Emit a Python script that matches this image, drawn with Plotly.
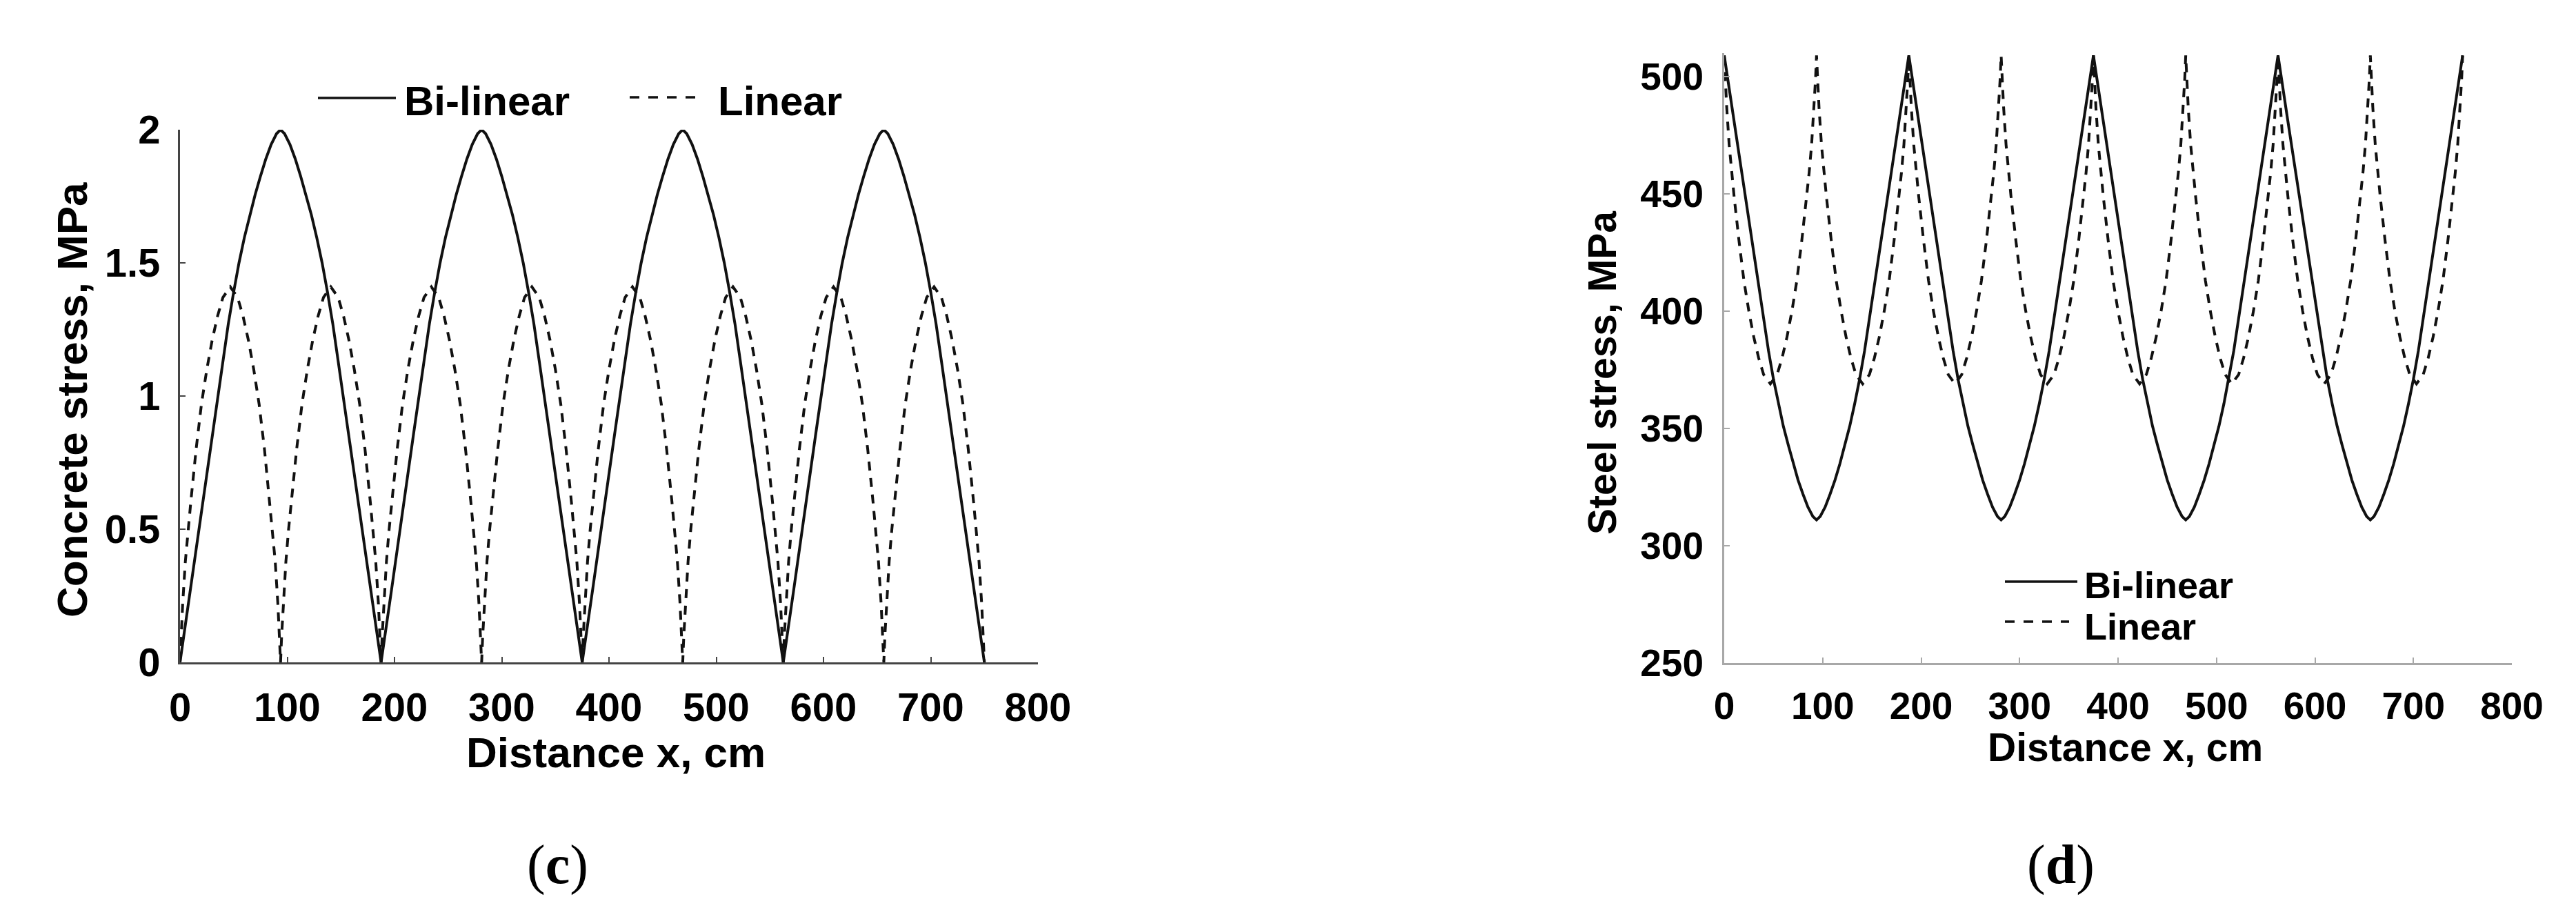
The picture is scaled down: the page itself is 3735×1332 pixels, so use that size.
import plotly.graph_objects as go

# ---------------- data ----------------
# (c) Concrete stress, MPa  /  (d) Steel stress, MPa  vs  Distance x, cm

x_bilinear = [
    0, 10, 20, 30, 40, 45, 50, 55, 60, 65, 70, 75, 80, 85, 90, 93.75, 97.5, 102.5, 107.5, 112.5, 117.5, 122.5, 127.5, 132.5, 137.5, 142.5, 147.5, 157.5, 167.5, 177.5,
    187.5, 197.5, 207.5, 217.5, 227.5, 232.5, 237.5, 242.5, 247.5, 252.5, 257.5, 262.5, 267.5, 272.5, 277.5, 281.25, 285, 290, 295, 300, 305, 310, 315, 320, 325, 330, 335, 345, 355, 365,
    375, 385, 395, 405, 415, 420, 425, 430, 435, 440, 445, 450, 455, 460, 465, 468.75, 472.5, 477.5, 482.5, 487.5, 492.5, 497.5, 502.5, 507.5, 512.5, 517.5, 522.5, 532.5, 542.5, 552.5,
    562.5, 572.5, 582.5, 592.5, 602.5, 607.5, 612.5, 617.5, 622.5, 627.5, 632.5, 637.5, 642.5, 647.5, 652.5, 656.25, 660, 665, 670, 675, 680, 685, 690, 695, 700, 705, 710, 720, 730, 740,
    750,
]

concrete_bilinear = [
    0, 0.28, 0.57, 0.85, 1.13, 1.27, 1.39, 1.50, 1.595, 1.68, 1.755, 1.825, 1.89, 1.945, 1.985, 2.0, 1.985, 1.945, 1.89, 1.825, 1.755, 1.68, 1.595, 1.50, 1.39, 1.27, 1.13, 0.85, 0.57, 0.28,
    0, 0.28, 0.57, 0.85, 1.13, 1.27, 1.39, 1.50, 1.595, 1.68, 1.755, 1.825, 1.89, 1.945, 1.985, 2.0, 1.985, 1.945, 1.89, 1.825, 1.755, 1.68, 1.595, 1.50, 1.39, 1.27, 1.13, 0.85, 0.57, 0.28,
    0, 0.28, 0.57, 0.85, 1.13, 1.27, 1.39, 1.50, 1.595, 1.68, 1.755, 1.825, 1.89, 1.945, 1.985, 2.0, 1.985, 1.945, 1.89, 1.825, 1.755, 1.68, 1.595, 1.50, 1.39, 1.27, 1.13, 0.85, 0.57, 0.28,
    0, 0.28, 0.57, 0.85, 1.13, 1.27, 1.39, 1.50, 1.595, 1.68, 1.755, 1.825, 1.89, 1.945, 1.985, 2.0, 1.985, 1.945, 1.89, 1.825, 1.755, 1.68, 1.595, 1.50, 1.39, 1.27, 1.13, 0.85, 0.57, 0.28,
    0,
]

steel_bilinear = [
    509, 481, 453, 425, 397, 383, 371, 360.5, 351, 343, 335, 328, 322, 316.5, 312.5, 311, 312.5, 316.5, 322, 328, 335, 343, 351, 360.5, 371, 383, 397, 425, 453, 481,
    509, 481, 453, 425, 397, 383, 371, 360.5, 351, 343, 335, 328, 322, 316.5, 312.5, 311, 312.5, 316.5, 322, 328, 335, 343, 351, 360.5, 371, 383, 397, 425, 453, 481,
    509, 481, 453, 425, 397, 383, 371, 360.5, 351, 343, 335, 328, 322, 316.5, 312.5, 311, 312.5, 316.5, 322, 328, 335, 343, 351, 360.5, 371, 383, 397, 425, 453, 481,
    509, 481, 453, 425, 397, 383, 371, 360.5, 351, 343, 335, 328, 322, 316.5, 312.5, 311, 312.5, 316.5, 322, 328, 335, 343, 351, 360.5, 371, 383, 397, 425, 453, 481,
    509,
]

x_linear = [
    0, 1, 2.5, 5, 7.5, 10, 15, 20, 25, 30, 35, 40, 46.875, 53.75, 58.75, 63.75, 68.75, 73.75, 78.75, 83.75, 86.25, 88.75, 91.25, 92.75,
    93.75, 94.75, 96.25, 98.75, 101.25, 103.75, 108.75, 113.75, 118.75, 123.75, 128.75, 133.75, 140.625, 147.5, 152.5, 157.5, 162.5, 167.5, 172.5, 177.5, 180, 182.5, 185, 186.5,
    187.5, 188.5, 190, 192.5, 195, 197.5, 202.5, 207.5, 212.5, 217.5, 222.5, 227.5, 234.375, 241.25, 246.25, 251.25, 256.25, 261.25, 266.25, 271.25, 273.75, 276.25, 278.75, 280.25,
    281.25, 282.25, 283.75, 286.25, 288.75, 291.25, 296.25, 301.25, 306.25, 311.25, 316.25, 321.25, 328.125, 335, 340, 345, 350, 355, 360, 365, 367.5, 370, 372.5, 374,
    375, 376, 377.5, 380, 382.5, 385, 390, 395, 400, 405, 410, 415, 421.875, 428.75, 433.75, 438.75, 443.75, 448.75, 453.75, 458.75, 461.25, 463.75, 466.25, 467.75,
    468.75, 469.75, 471.25, 473.75, 476.25, 478.75, 483.75, 488.75, 493.75, 498.75, 503.75, 508.75, 515.625, 522.5, 527.5, 532.5, 537.5, 542.5, 547.5, 552.5, 555, 557.5, 560, 561.5,
    562.5, 563.5, 565, 567.5, 570, 572.5, 577.5, 582.5, 587.5, 592.5, 597.5, 602.5, 609.375, 616.25, 621.25, 626.25, 631.25, 636.25, 641.25, 646.25, 648.75, 651.25, 653.75, 655.25,
    656.25, 657.25, 658.75, 661.25, 663.75, 666.25, 671.25, 676.25, 681.25, 686.25, 691.25, 696.25, 703.125, 710, 715, 720, 725, 730, 735, 740, 742.5, 745, 747.5, 749,
    750,
]

concrete_linear = [
    0, 0.1, 0.22, 0.38, 0.5, 0.6, 0.8, 0.97, 1.1, 1.21, 1.3, 1.37, 1.41, 1.37, 1.3, 1.21, 1.1, 0.97, 0.8, 0.6, 0.5, 0.38, 0.22, 0.1,
    0, 0.1, 0.22, 0.38, 0.5, 0.6, 0.8, 0.97, 1.1, 1.21, 1.3, 1.37, 1.41, 1.37, 1.3, 1.21, 1.1, 0.97, 0.8, 0.6, 0.5, 0.38, 0.22, 0.1,
    0, 0.1, 0.22, 0.38, 0.5, 0.6, 0.8, 0.97, 1.1, 1.21, 1.3, 1.37, 1.41, 1.37, 1.3, 1.21, 1.1, 0.97, 0.8, 0.6, 0.5, 0.38, 0.22, 0.1,
    0, 0.1, 0.22, 0.38, 0.5, 0.6, 0.8, 0.97, 1.1, 1.21, 1.3, 1.37, 1.41, 1.37, 1.3, 1.21, 1.1, 0.97, 0.8, 0.6, 0.5, 0.38, 0.22, 0.1,
    0, 0.1, 0.22, 0.38, 0.5, 0.6, 0.8, 0.97, 1.1, 1.21, 1.3, 1.37, 1.41, 1.37, 1.3, 1.21, 1.1, 0.97, 0.8, 0.6, 0.5, 0.38, 0.22, 0.1,
    0, 0.1, 0.22, 0.38, 0.5, 0.6, 0.8, 0.97, 1.1, 1.21, 1.3, 1.37, 1.41, 1.37, 1.3, 1.21, 1.1, 0.97, 0.8, 0.6, 0.5, 0.38, 0.22, 0.1,
    0, 0.1, 0.22, 0.38, 0.5, 0.6, 0.8, 0.97, 1.1, 1.21, 1.3, 1.37, 1.41, 1.37, 1.3, 1.21, 1.1, 0.97, 0.8, 0.6, 0.5, 0.38, 0.22, 0.1,
    0, 0.1, 0.22, 0.38, 0.5, 0.6, 0.8, 0.97, 1.1, 1.21, 1.3, 1.37, 1.41, 1.37, 1.3, 1.21, 1.1, 0.97, 0.8, 0.6, 0.5, 0.38, 0.22, 0.1,
    0,
]

steel_linear = [
    509, 499, 487, 471, 459, 449, 430, 413, 400, 389, 380, 373, 369, 373, 380, 389, 400, 413, 430, 449, 459, 471, 487, 499,
    509, 499, 487, 471, 459, 449, 430, 413, 400, 389, 380, 373, 369, 373, 380, 389, 400, 413, 430, 449, 459, 471, 487, 499,
    509, 499, 487, 471, 459, 449, 430, 413, 400, 389, 380, 373, 369, 373, 380, 389, 400, 413, 430, 449, 459, 471, 487, 499,
    509, 499, 487, 471, 459, 449, 430, 413, 400, 389, 380, 373, 369, 373, 380, 389, 400, 413, 430, 449, 459, 471, 487, 499,
    509, 499, 487, 471, 459, 449, 430, 413, 400, 389, 380, 373, 369, 373, 380, 389, 400, 413, 430, 449, 459, 471, 487, 499,
    509, 499, 487, 471, 459, 449, 430, 413, 400, 389, 380, 373, 369, 373, 380, 389, 400, 413, 430, 449, 459, 471, 487, 499,
    509, 499, 487, 471, 459, 449, 430, 413, 400, 389, 380, 373, 369, 373, 380, 389, 400, 413, 430, 449, 459, 471, 487, 499,
    509, 499, 487, 471, 459, 449, 430, 413, 400, 389, 380, 373, 369, 373, 380, 389, 400, 413, 430, 449, 459, 471, 487, 499,
    509,
]

series_names = ["Bi-linear", "Linear"]
x_ticks = [0, 100, 200, 300, 400, 500, 600, 700, 800]
concrete_ticks = [0, 0.5, 1, 1.5, 2]
steel_ticks = [250, 300, 350, 400, 450, 500]

# ---------------- styling ----------------
W, H = 3735, 1332
SANS = "Liberation Sans, Arial, sans-serif"
SERIF = "Liberation Serif, Times New Roman, serif"
INK = "#111111"
DASH = "13px,11px"
LEG_DASH = "14px,13px"


def px_x(p):
    return p / W


def px_y(p):
    return 1 - p / H


fig = go.Figure()
fig.add_trace(go.Scatter(x=x_bilinear, y=concrete_bilinear, mode="lines", name=series_names[0],
                         line=dict(color=INK, width=4), xaxis="x", yaxis="y", showlegend=False))
fig.add_trace(go.Scatter(x=x_linear, y=concrete_linear, mode="lines", name=series_names[1],
                         line=dict(color=INK, width=4, dash=DASH), xaxis="x", yaxis="y", showlegend=False))
fig.add_trace(go.Scatter(x=x_bilinear, y=steel_bilinear, mode="lines", name=series_names[0],
                         line=dict(color=INK, width=4), xaxis="x2", yaxis="y2", showlegend=False))
fig.add_trace(go.Scatter(x=x_linear, y=steel_linear, mode="lines", name=series_names[1],
                         line=dict(color=INK, width=4, dash=DASH), xaxis="x2", yaxis="y2", showlegend=False))

left_axis_col = "#444444"
right_axis_col = "#a8a8a8"
common_axis = dict(showgrid=False, zeroline=False, showline=True, linewidth=3,
                   ticks="inside", ticklen=8, tickwidth=2, automargin=False)

fig.update_layout(
    template="none",
    width=W, height=H,
    margin=dict(l=0, r=0, t=0, b=0, autoexpand=False),
    paper_bgcolor="white", plot_bgcolor="white",
    showlegend=False,
    xaxis=dict(domain=[px_x(261), px_x(1505)], range=[0, 800], tickvals=x_ticks,
               linecolor=left_axis_col, tickcolor=left_axis_col, anchor="y",
               tickfont=dict(family=SANS, size=58, color="black", weight="bold"),
               ticklabelstandoff=12, **common_axis),
    yaxis=dict(domain=[px_y(960), px_y(188)], range=[0, 2], tickvals=concrete_ticks,
               linecolor=left_axis_col, tickcolor=left_axis_col, anchor="x",
               tickfont=dict(family=SANS, size=58, color="black", weight="bold"),
               ticklabelstandoff=14, **common_axis),
    xaxis2=dict(domain=[px_x(2500), px_x(3642)], range=[0, 800], tickvals=x_ticks,
                linecolor=right_axis_col, tickcolor=right_axis_col, anchor="y2",
                tickfont=dict(family=SANS, size=55, color="black", weight="bold"),
                ticklabelstandoff=12, **common_axis),
    yaxis2=dict(domain=[px_y(961), px_y(77)], range=[250, 510], tickvals=steel_ticks,
                linecolor=right_axis_col, tickcolor=right_axis_col, anchor="x2",
                tickfont=dict(family=SANS, size=55, color="black", weight="bold"),
                ticklabelstandoff=16, **common_axis),
)

# key samples for the two legends (paper coordinates)
legend_keys = [
    (461, 574, 142, None),
    (913, 1015, 141, LEG_DASH),
    (2907, 3012, 843, None),
    (2907, 3000, 901, LEG_DASH),
]
shapes = []
for x0, x1, y, dash in legend_keys:
    ln = dict(color=INK, width=3.5)
    if dash:
        ln["dash"] = dash
    shapes.append(dict(type="line", xref="paper", yref="paper",
                       x0=px_x(x0), x1=px_x(x1), y0=px_y(y), y1=px_y(y), line=ln))
fig.update_layout(shapes=shapes)

bold60 = dict(family=SANS, size=60, color="black", weight="bold")
bold54 = dict(family=SANS, size=54, color="black", weight="bold")
annotations = [
    # legend texts
    dict(text=series_names[0], x=px_x(584), y=px_y(147), xanchor="left", font=bold60),
    dict(text=series_names[1], x=px_x(1039), y=px_y(146), xanchor="left", font=bold60),
    dict(text=series_names[0], x=px_x(3020), y=px_y(848), xanchor="left", font=bold54),
    dict(text=series_names[1], x=px_x(3020), y=px_y(908), xanchor="left", font=bold54),
    # axis titles
    dict(text="Distance x, cm", x=px_x(893), y=px_y(1090), font=dict(family=SANS, size=62, color="black", weight="bold")),
    dict(text="Concrete stress, MPa", x=px_x(104), y=px_y(580), textangle=-90,
         font=dict(family=SANS, size=62, color="black", weight="bold")),
    dict(text="Distance x, cm", x=px_x(3081), y=px_y(1083), font=dict(family=SANS, size=57, color="black", weight="bold")),
    dict(text="Steel stress, MPa", x=px_x(2323), y=px_y(540), textangle=-90,
         font=dict(family=SANS, size=57, color="black", weight="bold")),
    # panel captions
    dict(text="(<b>c</b>)", x=px_x(808), y=px_y(1253), font=dict(family=SERIF, size=80, color="black")),
    dict(text="(<b>d</b>)", x=px_x(2988), y=px_y(1253), font=dict(family=SERIF, size=80, color="black")),
]
for a in annotations:
    a.setdefault("xanchor", "center")
    a.update(xref="paper", yref="paper", yanchor="middle", showarrow=False)
fig.update_layout(annotations=annotations)

fig.write_html("out.html", config={"displayModeBar": False},
               post_script="document.body.style.margin='0';")
